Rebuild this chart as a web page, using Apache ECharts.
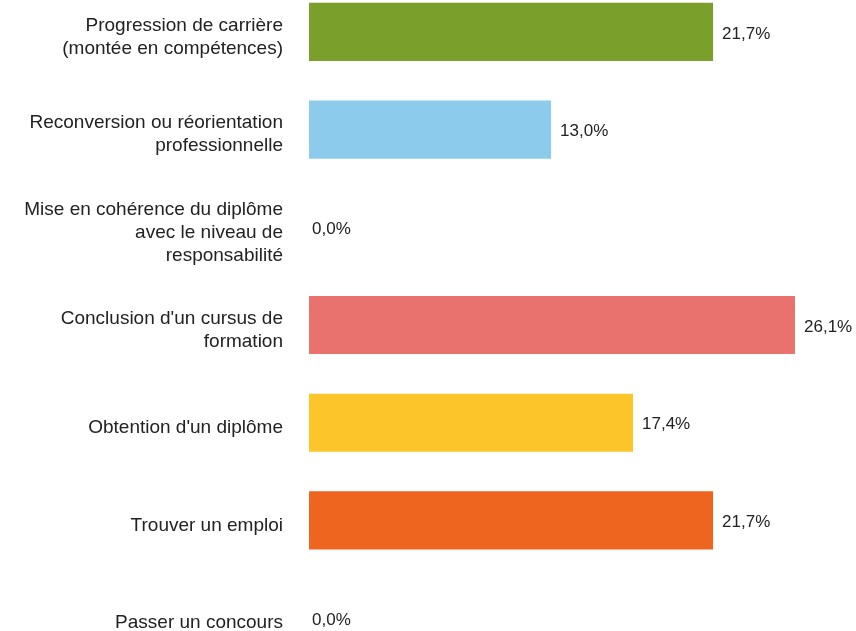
<!DOCTYPE html>
<html>
<head>
<meta charset="utf-8">
<script src="https://cdn.jsdelivr.net/npm/echarts@6/dist/echarts.min.js"></script>
<style>
  html, body { margin: 0; padding: 0; background: #fff; }
  #chart { width: 856px; height: 631px; }
</style>
</head>
<body>
<div id="chart"></div>
<script>
var categories = [
    'Progression de carrière\n(montée en compétences)',
    'Reconversion ou réorientation\nprofessionnelle',
    'Mise en cohérence du diplôme\navec le niveau de\nresponsabilité',
    "Conclusion d'un cursus de\nformation",
    "Obtention d'un diplôme",
    'Trouver un emploi',
    'Passer un concours'
];
var values = [21.7, 13.0, 0.0, 26.1, 17.4, 21.7, 0.0];
var colors = ['#7b9f2b', '#8ccbec', '#999999', '#e9716e', '#fcc62b', '#ee6520', '#999999'];

var dom = document.getElementById('chart');
var myChart = echarts.init(dom);

var labelFont = 'Liberation Sans, Arial, sans-serif';

var option = {
    animation: false,
    grid: [
        // bars
        { left: 309, right: 7, top: -17, bottom: -36, outerBoundsMode: 'none', containLabel: false },
        // category labels sit a little lower than the bar centres
        { left: 309, right: 7, top: -12, bottom: -41, outerBoundsMode: 'none', containLabel: false }
    ],
    xAxis: [
        { type: 'value', gridIndex: 0, min: 0, max: 29, show: false },
        { type: 'value', gridIndex: 1, min: 0, max: 29, show: false }
    ],
    yAxis: [
        {
            type: 'category',
            gridIndex: 0,
            data: categories,
            inverse: true,
            axisLine: { show: false },
            axisTick: { show: false },
            axisLabel: { show: false }
        },
        {
            type: 'category',
            gridIndex: 1,
            data: categories,
            inverse: true,
            axisLine: { show: false },
            axisTick: { show: false },
            axisLabel: {
                margin: 26,
                fontFamily: labelFont,
                fontSize: 19,
                lineHeight: 23,
                color: '#222',
                align: 'right'
            }
        }
    ],
    series: [
        {
            type: 'bar',
            xAxisIndex: 0,
            yAxisIndex: 0,
            barCategoryGap: '40.5%',
            data: values.map(function (v, i) {
                return {
                    value: v,
                    itemStyle: { color: colors[i] },
                    label: { distance: v === 0 ? 3 : 9 }
                };
            }),
            label: {
                show: true,
                position: 'right',
                offset: [0, 2],
                fontFamily: labelFont,
                fontSize: 17,
                color: '#222',
                formatter: function (p) {
                    return p.value.toFixed(1).replace('.', ',') + '%';
                }
            }
        }
    ]
};

myChart.setOption(option, true);
</script>
</body>
</html>
